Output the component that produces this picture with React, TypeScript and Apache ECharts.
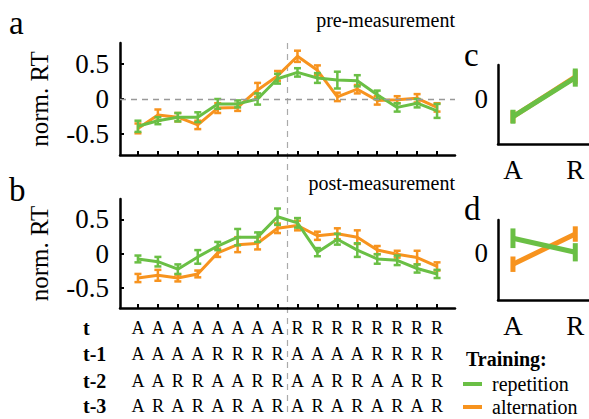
import React, { useEffect, useRef } from "react";
import * as echarts from "echarts";

const GREEN = "#6abf45";
const ORANGE = "#f7931e";
const FONT = "Liberation Serif";

// panel a (pre-measurement), 16 conditions
const preRep = [-0.39, -0.31, -0.26, -0.26, -0.07, -0.07, 0.0, 0.29, 0.38, 0.3, 0.27, 0.26, 0.06, -0.12, -0.06, -0.17];
const preRepErr = [0.08, 0.05, 0.06, 0.07, 0.07, 0.05, 0.08, 0.07, 0.06, 0.07, 0.12, 0.08, 0.06, 0.06, 0.06, 0.1];
const preAlt = [-0.42, -0.23, -0.26, -0.37, -0.13, -0.12, 0.13, 0.33, 0.61, 0.41, 0.03, 0.14, -0.02, -0.01, 0.01, -0.12];
const preAltErr = [0.07, 0.08, 0.06, 0.06, 0.07, 0.05, 0.1, 0.07, 0.08, 0.07, 0.06, 0.06, 0.06, 0.05, 0.06, 0.06];

// panel b (post-measurement)
const postRep = [-0.08, -0.12, -0.23, -0.05, 0.11, 0.24, 0.24, 0.54, 0.45, 0.02, 0.21, 0.05, -0.08, -0.1, -0.22, -0.3];
const postRepErr = [0.05, 0.07, 0.07, 0.1, 0.06, 0.12, 0.07, 0.12, 0.07, 0.06, 0.08, 0.1, 0.07, 0.07, 0.06, 0.06];
const postAlt = [-0.36, -0.32, -0.36, -0.3, 0.01, 0.13, 0.15, 0.37, 0.41, 0.26, 0.29, 0.24, 0.05, -0.01, -0.06, -0.19];
const postAltErr = [0.06, 0.08, 0.05, 0.05, 0.06, 0.11, 0.09, 0.07, 0.07, 0.06, 0.08, 0.1, 0.06, 0.05, 0.1, 0.06];

// panels c, d
const sideCats = ["A", "R"];
const cRep = [-0.25, 0.31];
const cRepErr = [0.1, 0.13];
const cAlt = [-0.25, 0.32];
const cAltErr = [0.09, 0.1];
const dRep = [0.21, 0.01];
const dRepErr = [0.14, 0.13];
const dAlt = [-0.16, 0.27];
const dAltErr = [0.11, 0.11];

const yTicks = [-0.5, 0, 0.5];
const rowLabels = ["t", "t-1", "t-2", "t-3"];
const rows = [
  "AAAAAAAARRRRRRRR",
  "AAAARRRRAAAARRRR",
  "AARRAARRAARRAARR",
  "ARARARARARARARAR",
];

const idx = preRep.map((_, i) => i + 1);

function errRender(color: string, capW: number, lw: number) {
  return (params: any, api: any) => {
    const x = api.value(0);
    const y = api.value(1);
    const e = api.value(2);
    const top = api.coord([x, y + e]);
    const bot = api.coord([x, y - e]);
    const style = { stroke: color, lineWidth: lw };
    const children: any[] = [
      { type: "line", shape: { x1: top[0], y1: top[1], x2: bot[0], y2: bot[1] }, style },
    ];
    if (capW > 0) {
      children.push(
        { type: "line", shape: { x1: top[0] - capW, y1: top[1], x2: top[0] + capW, y2: top[1] }, style },
        { type: "line", shape: { x1: bot[0] - capW, y1: bot[1], x2: bot[0] + capW, y2: bot[1] }, style }
      );
    }
    return { type: "group", children };
  };
}

const axisLineStyle = { color: "#000", width: 2.5 };

function mainX(gridIndex: number) {
  return {
    gridIndex,
    type: "value",
    min: 0.1,
    max: 16.9,
    axisLine: { show: true, onZero: false, lineStyle: axisLineStyle },
    axisTick: { show: true, inside: true, length: 4, customValues: idx, lineStyle: { color: "#000", width: 2 } },
    axisLabel: { show: false },
    splitLine: { show: false },
  };
}

function mainY(gridIndex: number) {
  return {
    gridIndex,
    type: "value",
    min: -0.8,
    max: 0.8,
    axisLine: { show: true, onZero: false, lineStyle: axisLineStyle },
    axisTick: { show: true, inside: true, length: 4, customValues: yTicks, lineStyle: { color: "#000", width: 2 } },
    axisLabel: {
      customValues: yTicks,
      fontSize: 27,
      fontFamily: FONT,
      color: "#000",
      margin: 11,
      formatter: (v: number) => (v === 0 ? "0" : String(v)),
    },
    splitLine: { show: false },
    name: "norm. RT",
    nameLocation: "middle",
    nameRotate: 90,
    nameGap: 68,
    nameTextStyle: { fontSize: 25, fontFamily: FONT, color: "#000" },
  };
}

function sideX(gridIndex: number) {
  return {
    gridIndex,
    type: "value",
    min: -0.24,
    max: 1.22,
    axisLine: { show: true, onZero: false, lineStyle: axisLineStyle },
    axisTick: { show: false },
    axisLabel: {
      customValues: [0, 1],
      formatter: (v: number) => sideCats[Math.round(v)],
      fontSize: 27,
      fontFamily: FONT,
      color: "#000",
      margin: 12,
    },
    splitLine: { show: false },
  };
}

function sideY(gridIndex: number, min: number, max: number) {
  return {
    gridIndex,
    type: "value",
    min,
    max,
    axisLine: { show: true, onZero: false, lineStyle: axisLineStyle },
    axisTick: { show: false },
    axisLabel: {
      customValues: [0],
      fontSize: 27,
      fontFamily: FONT,
      color: "#000",
      margin: 10,
      formatter: () => "0",
    },
    splitLine: { show: false },
  };
}

function mainSeries(gi: number, rep: number[], repErr: number[], alt: number[], altErr: number[], zeroLine: boolean) {
  const mk = (name: string, color: string, vals: number[], errs: number[], z: number) => [
    {
      name,
      type: "line",
      xAxisIndex: gi,
      yAxisIndex: gi,
      data: vals.map((v, i) => [idx[i], v]),
      symbol: "none",
      color,
      lineStyle: { color, width: 3 },
      z,
    },
    {
      type: "custom",
      xAxisIndex: gi,
      yAxisIndex: gi,
      data: vals.map((v, i) => [idx[i], v, errs[i]]),
      renderItem: errRender(color, 3.5, 2.5),
      z,
    },
  ];
  const markData: any[] = [];
  if (zeroLine) markData.push({ yAxis: 0 });
  const ref = {
    type: "line",
    xAxisIndex: gi,
    yAxisIndex: gi,
    data: [],
    markLine: {
      silent: true,
      symbol: "none",
      label: { show: false },
      lineStyle: { color: "#999", type: [6, 5], width: 1.3 },
      data: markData,
    },
    z: 1,
  };
  return [ref, ...mk("alternation", ORANGE, alt, altErr, 3), ...mk("repetition", GREEN, rep, repErr, 4)];
}

function sideSeries(gi: number, rep: number[], repErr: number[], alt: number[], altErr: number[]) {
  const mk = (name: string, color: string, vals: number[], errs: number[], z: number) => [
    {
      name,
      type: "line",
      xAxisIndex: gi,
      yAxisIndex: gi,
      data: vals.map((v, i) => [i, v]),
      symbol: "none",
      color,
      lineStyle: { color, width: 5 },
      z,
    },
    {
      type: "custom",
      xAxisIndex: gi,
      yAxisIndex: gi,
      data: vals.map((v, i) => [i, v, errs[i]]),
      renderItem: errRender(color, 0, 5),
      z,
    },
  ];
  return [...mk("alternation", ORANGE, alt, altErr, 3), ...mk("repetition", GREEN, rep, repErr, 4)];
}

export default function App() {
  const ref = useRef<HTMLDivElement>(null);
  useEffect(() => {
    document.body.style.margin = "0";
    const chart = echarts.init(ref.current!, null, { renderer: "svg" });
    const txt = (text: string, x: number, y: number, size: number, extra: any = {}) => ({
      type: "text",
      x,
      y,
      silent: true,
      style: {
        text,
        fontSize: size,
        fontFamily: FONT,
        fill: "#000",
        verticalAlign: "middle",
        ...extra,
      },
    });
    chart.setOption({
      animation: false,
      backgroundColor: "#fff",
      textStyle: { fontFamily: FONT },
      grid: [
        { left: 120, top: 43, width: 335, height: 112 },
        { left: 120, top: 199, width: 335, height: 109 },
        { left: 498, top: 65, width: 95, height: 79 },
        { left: 498, top: 220, width: 95, height: 80 },
      ],
      xAxis: [mainX(0), mainX(1), sideX(2), sideX(3)],
      yAxis: [mainY(0), mainY(1), sideY(2, -0.64, 0.49), sideY(3, -0.67, 0.47)],
      legend: {
        left: 463,
        top: 374,
        orient: "vertical",
        padding: 0,
        itemGap: 3,
        itemWidth: 19,
        itemHeight: 4,
        textStyle: { fontSize: 20, fontFamily: FONT, color: "#000", padding: [0, 0, 0, 5] },
        data: [
          { name: "repetition", icon: "rect" },
          { name: "alternation", icon: "rect" },
        ],
      },
      series: [
        ...mainSeries(0, preRep, preRepErr, preAlt, preAltErr, true),
        ...mainSeries(1, postRep, postRepErr, postAlt, postAltErr, false),
        ...sideSeries(2, cRep, cRepErr, cAlt, cAltErr),
        ...sideSeries(3, dRep, dRepErr, dAlt, dAltErr),
      ],
    });

    const px = (i: number) => (chart.convertToPixel({ gridIndex: 1 }, [i, 0]) as number[])[0];
    const midX = px(8.5);
    const rowY = [328, 354, 381, 406];
    const graphic: any[] = [
      {
        type: "line",
        silent: true,
        z: 0,
        shape: { x1: midX, y1: 43, x2: midX, y2: 416 },
        style: { stroke: "#aaa", lineWidth: 1.2, lineDash: [6, 5] },
      },
      txt("a", 9, 23, 33),
      txt("b", 9, 190, 33),
      txt("c", 464, 55, 33),
      txt("d", 464, 209, 33),
      txt("pre-measurement", 455, 20, 20, { align: "right" }),
      txt("post-measurement", 455, 183, 20, { align: "right" }),
      txt("Training:", 466, 359, 20, { fontWeight: "bold" }),
    ];
    rowLabels.forEach((lab, r) => {
      graphic.push(txt(lab, 83, rowY[r], 20, { fontWeight: "bold" }));
      rows[r].split("").forEach((ch, i) => {
        graphic.push(txt(ch, px(idx[i]), rowY[r], 18, { align: "center" }));
      });
    });
    chart.setOption({ graphic });
    return () => chart.dispose();
  }, []);
  return <div ref={ref} style={{ width: 589, height: 419 }} />;
}
